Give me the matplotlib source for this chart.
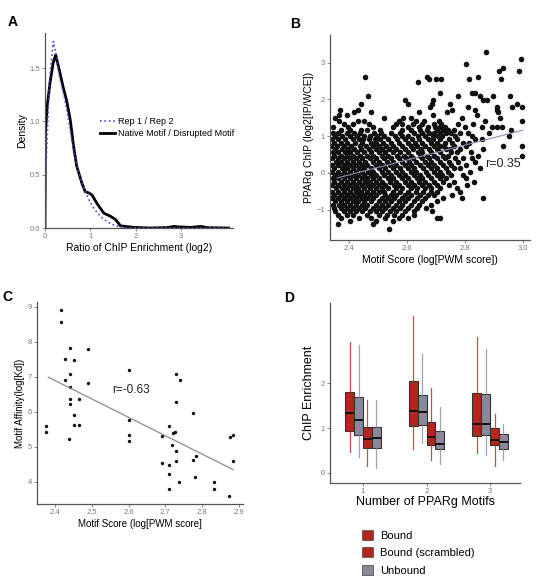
import numpy as np
import matplotlib
matplotlib.use('Agg')
import matplotlib.pyplot as plt
from matplotlib.patches import Patch
from matplotlib.lines import Line2D

plt.rcParams['font.family'] = ['Liberation Sans', 'DejaVu Sans']

# panel A: density curves
rep_x = [0.0, 0.01, 0.037, 0.096, 0.148, 0.185, 0.244, 0.32, 0.407, 0.48, 0.556, 0.63, 0.74, 0.85,
         0.963, 1.07, 1.22, 1.37, 1.556, 1.8, 2.2, 3.0, 4.05]
rep_y = [0.0, 0.45, 0.73, 1.36, 1.61, 1.75, 1.64, 1.42, 1.27, 1.11, 0.92, 0.73, 0.52, 0.39,
         0.27, 0.19, 0.11, 0.06, 0.02, 0.004, 0.0, 0.0, 0.0]
nat_x = [0.0, 0.01, 0.05, 0.11, 0.18, 0.237, 0.333, 0.407, 0.48, 0.556, 0.63, 0.70, 0.815, 0.889,
         0.963, 1.037, 1.148, 1.296, 1.444, 1.556, 1.667, 1.96, 2.33, 2.7, 2.85, 2.95, 3.04,
         3.2, 3.44, 3.59, 4.05]
nat_y = [0.0, 0.9, 1.15, 1.36, 1.55, 1.625, 1.45, 1.31, 1.19, 1.02, 0.77, 0.58, 0.42, 0.34,
         0.33, 0.31, 0.23, 0.14, 0.11, 0.08, 0.02, 0.006, 0.0, 0.004, 0.015, 0.01, 0.01,
         0.005, 0.015, 0.003, 0.0]

# panel B: scatter rows "y: x x x ..."
b_rows = """
3.29: 2.872
3.10: 2.993
2.96: 2.802
2.86: 2.932
2.76: 2.918 2.987
2.60: 2.455 2.670 2.846
2.55: 2.674 2.699 2.716 2.815 2.924
2.46: 2.636
2.17: 2.714 2.823 2.834
2.08: 2.464 2.777 2.851 2.897 2.955
1.98: 2.691 2.593 2.874 2.863
1.88: 2.441 2.602 2.685 2.748 2.980
1.80: 2.679 2.811 2.911 2.998 2.961
1.72: 2.369 2.432 2.756 2.834 2.909
1.65: 2.418 2.476 2.737 2.641 2.913
1.57: 2.366 2.392 2.840 2.688
1.49: 2.522 2.586 2.612 2.788 2.921 2.352
1.41: 2.366 2.431 2.452 2.571 2.632 2.659 2.709 2.869 2.995
1.33: 2.381 2.412 2.468 2.561 2.583 2.621 2.652 2.694 2.718 2.777 2.829
1.25: 2.346 2.397 2.483 2.552 2.603 2.641 2.672 2.697 2.712 2.731 2.800 2.857 2.892 2.909 2.926
1.17: 2.372 2.404 2.441 2.463 2.507 2.582 2.613 2.644 2.668 2.703 2.724 2.742 2.762 2.958
1.08: 2.344 2.362 2.393 2.418 2.436 2.487 2.511 2.546 2.574 2.623 2.652 2.677 2.693 2.714 2.735 2.752 2.781 2.811 2.883
0.99: 2.351 2.377 2.402 2.426 2.452 2.471 2.496 2.522 2.557 2.584 2.603 2.636 2.661 2.688 2.707 2.722 2.764 2.823 2.951
0.91: 2.341 2.363 2.386 2.412 2.433 2.447 2.468 2.489 2.506 2.534 2.566 2.592 2.617 2.641 2.673 2.691 2.713 2.744 2.772 2.834 2.857
0.82: 2.348 2.371 2.394 2.421 2.444 2.476 2.493 2.518 2.544 2.571 2.603 2.627 2.652 2.684 2.703 2.731 2.756 2.793 2.812
0.74: 2.339 2.358 2.382 2.405 2.437 2.458 2.482 2.503 2.527 2.553 2.582 2.614 2.633 2.663 2.692 2.712 2.726 2.762 2.804 2.932 2.995
0.65: 2.352 2.374 2.397 2.416 2.441 2.467 2.494 2.512 2.538 2.562 2.593 2.621 2.647 2.676 2.703 2.733 2.748 2.783 2.863
0.56: 2.343 2.361 2.385 2.404 2.428 2.452 2.474 2.503 2.524 2.551 2.574 2.604 2.636 2.652 2.684 2.713 2.752 2.771 2.822
0.47: 2.347 2.372 2.391 2.413 2.436 2.463 2.484 2.512 2.533 2.564 2.588 2.612 2.643 2.667 2.692 2.724 2.741 2.846 2.995
0.39: 2.341 2.363 2.384 2.402 2.425 2.443 2.472 2.494 2.521 2.546 2.573 2.596 2.622 2.653 2.674 2.703 2.732 2.764 2.793 2.823
0.30: 2.353 2.372 2.393 2.414 2.434 2.455 2.482 2.504 2.532 2.553 2.584 2.606 2.632 2.663 2.684 2.712 2.743 2.774 2.834
0.21: 2.342 2.361 2.383 2.404 2.423 2.446 2.463 2.492 2.514 2.542 2.563 2.592 2.614 2.645 2.672 2.693 2.724 2.752 2.803
0.12: 2.348 2.374 2.392 2.413 2.433 2.452 2.474 2.502 2.524 2.553 2.574 2.604 2.623 2.654 2.682 2.703 2.733 2.762 2.784 2.852
0.03: 2.341 2.362 2.384 2.403 2.424 2.443 2.466 2.484 2.513 2.534 2.562 2.583 2.613 2.632 2.664 2.693 2.714 2.742 2.817
-0.06: 2.352 2.373 2.392 2.414 2.432 2.453 2.474 2.493 2.522 2.544 2.572 2.594 2.624 2.643 2.672 2.703 2.722 2.753 2.792
-0.15: 2.343 2.362 2.381 2.402 2.423 2.444 2.463 2.482 2.504 2.533 2.552 2.583 2.604 2.633 2.652 2.683 2.713 2.734 2.803
-0.24: 2.347 2.372 2.393 2.412 2.434 2.454 2.472 2.494 2.513 2.542 2.563 2.592 2.614 2.642 2.663 2.694 2.723 2.762 2.832
-0.33: 2.341 2.363 2.384 2.403 2.422 2.443 2.464 2.483 2.502 2.524 2.554 2.573 2.603 2.624 2.653 2.674 2.704 2.743 2.806
-0.42: 2.353 2.374 2.391 2.413 2.432 2.452 2.473 2.492 2.514 2.533 2.562 2.584 2.612 2.634 2.662 2.684 2.713 2.772
-0.51: 2.342 2.361 2.383 2.404 2.423 2.442 2.463 2.484 2.503 2.522 2.552 2.574 2.603 2.632 2.654 2.682 2.704 2.783
-0.60: 2.348 2.372 2.393 2.414 2.433 2.453 2.472 2.494 2.523 2.543 2.563 2.592 2.613 2.643 2.672 2.693 2.754
-0.69: 2.341 2.362 2.384 2.403 2.424 2.443 2.462 2.484 2.512 2.533 2.554 2.583 2.604 2.633 2.662 2.723 2.788 2.863
-0.78: 2.352 2.373 2.392 2.413 2.432 2.452 2.474 2.503 2.524 2.544 2.572 2.593 2.624 2.653 2.703
-0.87: 2.343 2.364 2.383 2.402 2.423 2.444 2.463 2.492 2.514 2.533 2.562 2.584 2.613 2.642 2.684
-0.96: 2.347 2.372 2.393 2.414 2.434 2.454 2.483 2.504 2.524 2.553 2.574 2.604 2.633 2.664
-1.05: 2.352 2.382 2.403 2.424 2.443 2.473 2.494 2.513 2.542 2.563 2.594 2.624 2.685
-1.14: 2.362 2.394 2.413 2.462 2.504 2.532 2.554 2.583 2.623
-1.22: 2.372 2.434 2.474 2.523 2.572 2.603 2.703 2.712
-1.31: 2.403 2.492 2.553
-1.39: 2.363 2.484
-1.54: 2.538
"""
b_fit_slope = 2.03
b_fit_intercept = -4.93
b_r_text = "r=0.35"

# panel C: motif score vs affinity
c_score = [2.375, 2.375, 2.416, 2.416, 2.428, 2.441, 2.452, 2.428, 2.441, 2.441, 2.441, 2.441,
           2.465, 2.452, 2.452, 2.465, 2.439, 2.490, 2.490, 2.601, 2.601, 2.601, 2.601, 2.691,
           2.691, 2.711, 2.711, 2.711, 2.711, 2.719, 2.721, 2.726, 2.729, 2.729, 2.729, 2.729,
           2.741, 2.737, 2.774, 2.774, 2.783, 2.781, 2.833, 2.833, 2.874, 2.875, 2.883, 2.884]
c_affinity = [5.59, 5.42, 8.92, 8.57, 7.52, 7.84, 7.47, 6.90, 7.07, 6.70, 6.37, 6.24,
              6.38, 5.92, 5.64, 5.64, 5.23, 7.80, 6.82, 7.19, 5.76, 5.33, 5.16, 5.31,
              4.54, 5.61, 4.48, 4.24, 3.80, 5.05, 5.39, 5.44, 7.09, 6.29, 4.87, 4.59,
              6.90, 4.00, 5.96, 4.64, 4.73, 4.13, 4.00, 3.81, 3.61, 5.29, 5.33, 4.59]
c_r_text = "r=-0.63"

# panel D: box stats, 4 boxes per motif count
motif_counts = [1, 2, 3]
box_offsets = [-0.21, -0.07, 0.07, 0.21]
box_colors = ['#b3261b', '#8c889b', '#b3261b', '#8c889b']
d_q1 = [[0.93, 0.84, 0.56, 0.56], [1.04, 1.06, 0.61, 0.54], [0.82, 0.84, 0.61, 0.54]]
d_med = [[1.34, 1.19, 0.76, 0.78], [1.38, 1.35, 0.81, 0.65], [1.10, 1.08, 0.74, 0.69]]
d_q3 = [[1.80, 1.69, 1.02, 1.02], [2.06, 1.73, 1.14, 0.93], [1.78, 1.77, 1.00, 0.86]]
d_lo = [[0.46, 0.35, 0.16, 0.11], [0.54, 0.66, 0.29, 0.19], [0.44, 0.39, 0.15, 0.28]]
d_hi = [[2.93, 2.87, 1.62, 1.63], [3.50, 2.66, 1.90, 1.47], [3.04, 2.78, 1.31, 1.10]]
legend_labels = ['Bound', 'Bound (scrambled)', 'Unbound']
legend_colors = ['#b3261b', '#b3261b', '#8c889b']

W, H = 542, 579
tick_col = '#777777'
spine_col = '#555555'


def rect(left, top, right, bottom):
    return [left / W, 1 - bottom / H, (right - left) / W, (bottom - top) / H]


def style(ax):
    for s in ['top', 'right']:
        ax.spines[s].set_visible(False)
    for s in ['left', 'bottom']:
        ax.spines[s].set_color(spine_col)
        ax.spines[s].set_linewidth(0.9)
    ax.tick_params(length=2, width=0.6, color=tick_col, labelcolor=tick_col, labelsize=5.5, pad=1.5)


fig = plt.figure(figsize=(W / 100, H / 100), dpi=100)

# A
ax = fig.add_axes(rect(45, 33, 233, 228))
ax.plot(nat_x, nat_y, color='black', lw=2)
ax.plot(rep_x, rep_y, color='#4a4ad0', lw=1.2, ls=':')
ax.set_xlim(0, 4.15)
ax.set_ylim(0, 1.83)
ax.set_xticks([0, 1, 2, 3])
ax.set_yticks([0, 0.5, 1.0, 1.5])
ax.set_yticklabels(['0.0', '0.5', '1.0', '1.5'])
ax.set_xlabel('Ratio of ChIP Enrichment (log2)', fontsize=7.5, labelpad=2)
ax.set_ylabel('Density', fontsize=7.5, labelpad=2)
style(ax)
handles = [Line2D([], [], color='#4a4ad0', lw=1.2, ls=':'), Line2D([], [], color='black', lw=2)]
ax.legend(handles, ['Rep 1 / Rep 2', 'Native Motif / Disrupted Motif'], loc='upper left',
          bbox_to_anchor=(0.25, 0.61), frameon=False, fontsize=6.5, handlelength=1.6,
          handletextpad=0.4, labelspacing=0.35)

# B
bx, by = [], []
for line in b_rows.strip().splitlines():
    yv, xs = line.split(':')
    for xv in xs.split():
        bx.append(float(xv))
        by.append(float(yv))
ax = fig.add_axes(rect(330, 35, 530, 240))
ax.scatter(bx, by, s=16, color='#111111', linewidths=0)
fx = np.array([min(bx) + 0.02, max(bx)])
ax.plot(fx, b_fit_intercept + b_fit_slope * fx, color='#8a8ab0', lw=0.8)
ax.text(2.87, 0.15, b_r_text, fontsize=9, color='#222222')
ax.set_xlim(2.334, 3.024)
ax.set_ylim(-1.83, 3.75)
ax.set_xticks([2.4, 2.6, 2.8, 3.0])
ax.set_yticks([-1, 0, 1, 2, 3])
ax.set_xlabel('Motif Score (log[PWM score])', fontsize=7.5, labelpad=2)
ax.set_ylabel('PPARg ChIP (log2[IP/WCE])', fontsize=7.5, labelpad=2)
style(ax)

# C
ax = fig.add_axes(rect(37, 302, 243, 504))
ax.scatter(c_score, c_affinity, s=6, color='#111111', linewidths=0)
k, b = np.polyfit(c_score, c_affinity, 1)
fx = np.array([min(c_score) + 0.007, max(c_score)])
ax.plot(fx, b + k * fx, color='#8a8a9a', lw=0.9)
ax.text(2.555, 6.55, c_r_text, fontsize=8.5, color='#222222')
ax.set_xlim(2.351, 2.911)
ax.set_ylim(3.37, 9.14)
ax.set_xticks([2.4, 2.5, 2.6, 2.7, 2.8, 2.9])
ax.set_yticks([4, 5, 6, 7, 8, 9])
ax.set_xlabel('Motif Score (log[PWM score]', fontsize=7, labelpad=2)
ax.set_ylabel('Motif Affinity(log[Kd])', fontsize=7, labelpad=2)
style(ax)

# D
ax = fig.add_axes(rect(330, 303, 520, 483))
for gi, m in enumerate(motif_counts):
    for bi in range(4):
        st = [dict(med=d_med[gi][bi], q1=d_q1[gi][bi], q3=d_q3[gi][bi],
                   whislo=d_lo[gi][bi], whishi=d_hi[gi][bi], fliers=[])]
        col = box_colors[bi]
        ax.bxp(st, positions=[m + box_offsets[bi]], widths=0.14, showcaps=False,
               showfliers=False, patch_artist=True,
               boxprops=dict(facecolor=col, edgecolor='#333333', lw=0.8),
               medianprops=dict(color='#111111', lw=1.4),
               whiskerprops=dict(color=col, lw=0.9, alpha=0.8))
ax.set_xlim(0.48, 3.47)
ax.set_ylim(-0.23, 3.8)
ax.set_xticks(motif_counts)
ax.set_xticklabels([str(m) for m in motif_counts])
ax.set_yticks([0, 1, 2])
ax.set_xlabel('Number of PPARg Motifs', fontsize=9, labelpad=1)
ax.set_ylabel('ChIP Enrichment', fontsize=9, labelpad=4)
style(ax)
handles = [Patch(facecolor=c, edgecolor='#555555', lw=0.6) for c in legend_colors]
fig.legend(handles, legend_labels, loc='upper left', bbox_to_anchor=(352 / W, 1 - 520 / H),
           frameon=False, fontsize=8, handlelength=1.0, handleheight=1.0,
           handletextpad=0.6, labelspacing=0.6)

# panel letters
for letter, px, py in [('A', 8, 22), ('B', 290, 24), ('C', 2, 297), ('D', 284, 298)]:
    fig.text(px / W, 1 - py / H, letter, fontsize=10, fontweight='bold', va='center')

fig.savefig('out.png', dpi=100)
